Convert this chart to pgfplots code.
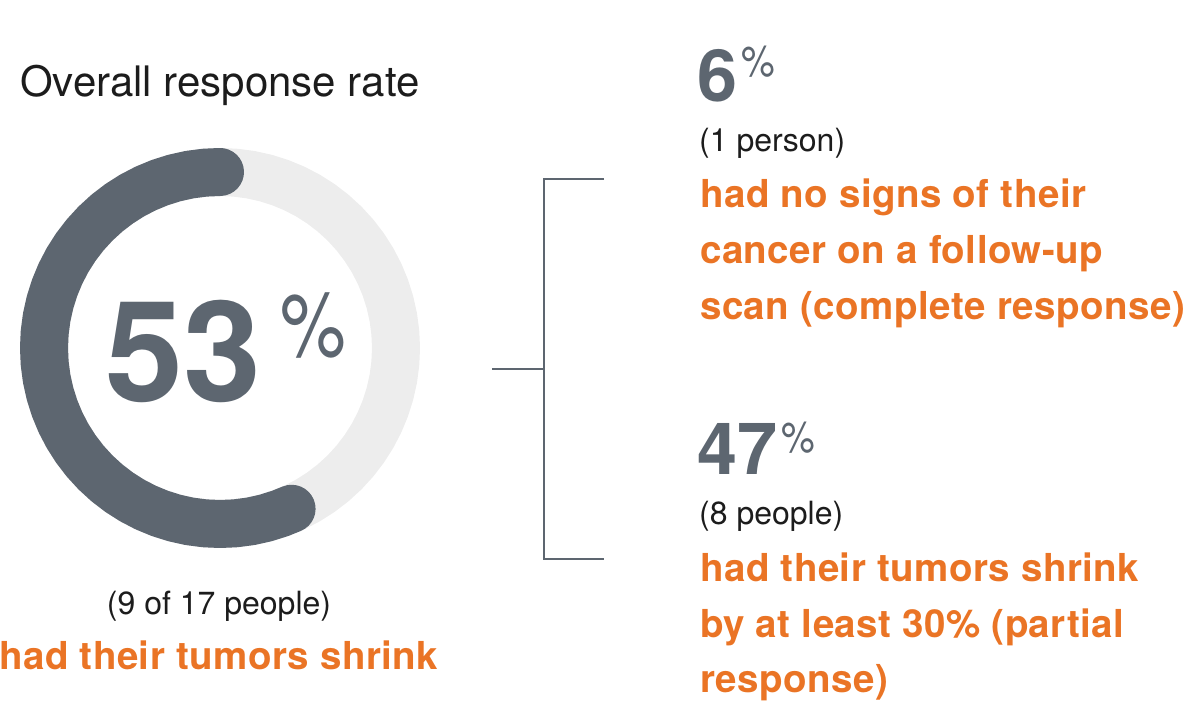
\documentclass[border=0pt]{standalone}
\usepackage{pgfplots}
\pgfplotsset{compat=1.18}
\usepackage{fontspec}
\setmainfont{TeX Gyre Heros}
\newfontfamily\medfont[LetterSpace=1.2]{TeX Gyre Heros}
\definecolor{dk}{HTML}{5D6670}
\definecolor{lt}{HTML}{EDEDED}
\definecolor{orng}{HTML}{EA7425}
\definecolor{txt}{HTML}{1C1C1C}
\newcommand{\orn}[1]{{\medfont\fontsize{38.5bp}{40bp}\selectfont\bfseries\color{orng}#1}}
\newcommand{\blk}[1]{{\fontsize{32bp}{36bp}\selectfont\color{txt}#1}}
\begin{document}
\begin{tikzpicture}[x=1bp,y=1bp]
\path[use as bounding box] (0,0) rectangle (1193,708);
\begin{axis}[at={(220,360)}, anchor=center, x=1bp, y=1bp,
  xmin=-200, xmax=200, ymin=-200, ymax=200, hide axis, clip=false]
% background ring (100%)
\addplot[data cs=polar, lt, line width=48bp, line join=round, no markers] coordinates {
(0,176) (5,176) (10,176) (15,176) (20,176) (25,176) (30,176) (35,176) (40,176) (45,176)
(50,176) (55,176) (60,176) (65,176) (70,176) (75,176) (80,176) (85,176) (90,176) (95,176)
(100,176) (105,176) (110,176) (115,176) (120,176) (125,176) (130,176) (135,176) (140,176) (145,176)
(150,176) (155,176) (160,176) (165,176) (170,176) (175,176) (180,176) (185,176) (190,176) (195,176)
(200,176) (205,176) (210,176) (215,176) (220,176) (225,176) (230,176) (235,176) (240,176) (245,176)
(250,176) (255,176) (260,176) (265,176) (270,176) (275,176) (280,176) (285,176) (290,176) (295,176)
(300,176) (305,176) (310,176) (315,176) (320,176) (325,176) (330,176) (335,176) (340,176) (345,176)
(350,176) (355,176) (360,176) (365,176)
};
% response arc (53%)
\addplot[data cs=polar, dk, line width=48bp, line join=round, line cap=round, no markers] coordinates {
(90,176) (95,176) (100,176) (105,176) (110,176) (115,176) (120,176) (125,176) (130,176) (135,176)
(140,176) (145,176) (150,176) (155,176) (160,176) (165,176) (170,176) (175,176) (180,176) (185,176)
(190,176) (195,176) (200,176) (205,176) (210,176) (215,176) (220,176) (225,176) (230,176) (235,176)
(240,176) (245,176) (250,176) (255,176) (260,176) (265,176) (270,176) (275,176) (280,176) (285,176)
(290,176) (294,176)
};
\end{axis}
% bracket
\draw[dk, line width=2bp] (604,529) -- (544,529) -- (544,149) -- (604,149);
\draw[dk, line width=2bp] (492,339) -- (544,339);
% texts
\node[anchor=base west, inner sep=0, txt] at (20,611) {\fontsize{42bp}{46bp}\selectfont Overall response rate};
\node[anchor=base west, inner sep=0, dk] at (105,306) {\fontsize{140bp}{150bp}\selectfont\bfseries 53};
\node[anchor=base west, inner sep=0, dk, xscale=0.82] at (280,351) {\fontsize{90bp}{92bp}\selectfont \%};
\node[anchor=base, inner sep=0] at (219,93) {\blk{(9 of 17 people)}};
\node[anchor=base west, inner sep=0] at (-1,38) {\orn{had their tumors shrink}};
% right block 1
\node[anchor=base west, inner sep=0, dk] at (697,606) {\fontsize{72bp}{80bp}\selectfont\bfseries 6};
\node[anchor=base west, inner sep=0, dk, xscale=0.88] at (741,631) {\fontsize{43bp}{46bp}\selectfont \%};
\node[anchor=base west, inner sep=0] at (699,556) {\blk{(1 person)}};
\node[anchor=base west, inner sep=0] at (700,500) {\orn{had no signs of their}};
\node[anchor=base west, inner sep=0] at (700,444) {\orn{cancer on a follow-up}};
\node[anchor=base west, inner sep=0] at (700,388) {\orn{scan (complete response)}};
% right block 2
\node[anchor=base west, inner sep=0, dk] at (697,233) {\fontsize{72bp}{80bp}\selectfont\bfseries 47};
\node[anchor=base west, inner sep=0, dk, xscale=0.88] at (781,255) {\fontsize{43bp}{46bp}\selectfont \%};
\node[anchor=base west, inner sep=0] at (699,183) {\blk{(8 people)}};
\node[anchor=base west, inner sep=0] at (700,126) {\orn{had their tumors shrink}};
\node[anchor=base west, inner sep=0] at (700,70) {\orn{by at least 30\% (partial}};
\node[anchor=base west, inner sep=0] at (700,15) {\orn{response)}};
\end{tikzpicture}
\end{document}
